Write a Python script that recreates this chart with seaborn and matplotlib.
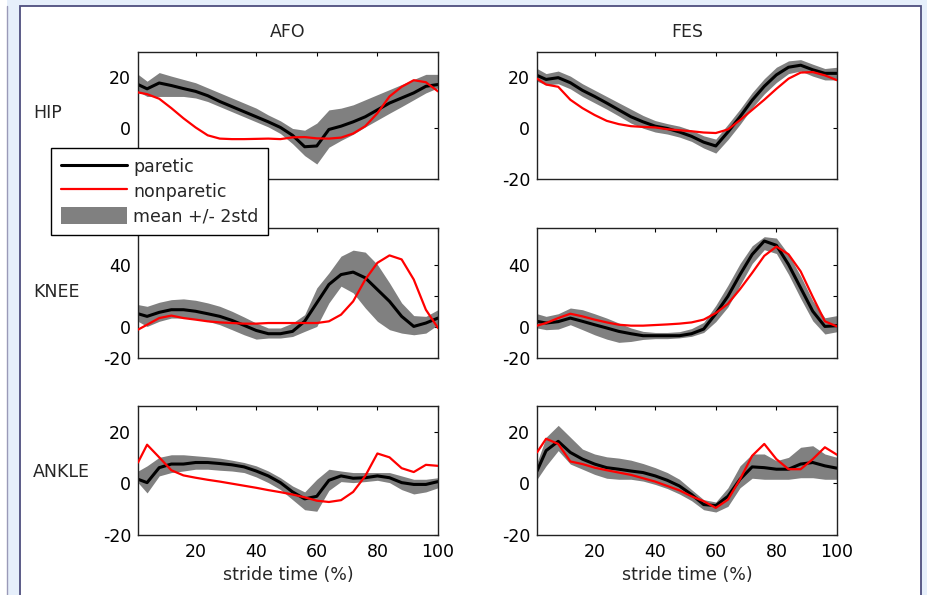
import numpy as np
import pandas as pd
import seaborn as sns
import matplotlib.pyplot as plt
from matplotlib.lines import Line2D
from matplotlib.patches import Patch, Rectangle

# stride time grid (%)
STRIDE = [1, 4, 8, 12, 16, 20, 24, 28, 32, 36, 40, 44, 48, 52, 56, 60, 64, 68, 72, 76, 80, 84, 88, 92, 96, 100]

# ---- AFO ----
AFO_HIP_PARETIC = [17.2, 15.5, 17.8, 16.8, 15.6, 14.5, 12.8, 10.5, 8.5, 6.5, 4.5, 2.5, 0.3, -2.8, -7.3, -7.0, -0.5, 0.8, 2.5, 4.5, 7.2, 9.9, 11.9, 13.9, 16.5, 17.2]
AFO_HIP_UPPER = [21.2, 18.5, 21.9, 20.5, 19.2, 17.9, 15.9, 13.9, 11.9, 9.9, 7.9, 5.2, 2.9, -0.1, -0.8, 2.0, 7.2, 7.9, 9.2, 11.2, 13.2, 15.2, 17.2, 19.2, 21.2, 21.2]
AFO_HIP_LOWER = [14.5, 12.5, 12.5, 12.5, 12.5, 11.9, 10.5, 8.5, 6.5, 4.5, 2.5, 0.5, -2.1, -6.1, -10.8, -14.1, -7.5, -4.8, -2.4, 0.5, 3.2, 5.9, 8.5, 11.2, 13.9, 15.9]
AFO_HIP_NONPARETIC = [14.1, 13.4, 11.6, 7.9, 3.9, 0.3, -2.8, -4.1, -4.3, -4.3, -4.2, -4.1, -4.3, -3.6, -3.5, -4.0, -4.1, -3.7, -2.1, 0.8, 5.9, 12.5, 16.3, 18.9, 18.1, 14.5]

AFO_KNEE_PARETIC = [8.6, 6.9, 9.5, 11.2, 11.2, 10.2, 8.6, 6.9, 4.3, 1.1, -2.2, -4.3, -4.3, -2.8, 3.7, 15.6, 27.5, 33.9, 35.5, 31.8, 24.2, 16.6, 6.9, 0.4, 2.6, 5.8]
AFO_KNEE_UPPER = [14.5, 13.4, 16.0, 17.7, 18.2, 17.3, 15.6, 13.4, 10.2, 6.5, 2.6, -0.6, -0.6, 2.6, 8.0, 25.3, 35.0, 45.8, 49.7, 48.4, 40.4, 28.5, 15.6, 7.4, 6.9, 11.2]
AFO_KNEE_LOWER = [3.7, 0.4, 3.7, 5.8, 5.8, 5.2, 3.7, 1.5, -1.7, -5.0, -7.8, -7.1, -7.1, -6.1, -2.8, 0.4, 15.6, 26.4, 22.1, 12.3, 3.7, -1.7, -3.9, -5.0, -3.9, 1.5]
AFO_KNEE_NONPARETIC = [-1.7, 1.5, 5.8, 7.4, 5.8, 4.8, 3.7, 3.0, 2.6, 2.2, 2.2, 2.6, 2.6, 2.6, 2.6, 2.6, 3.7, 8.0, 16.6, 30.7, 41.5, 46.3, 43.7, 30.7, 11.2, -0.6]

AFO_ANKLE_PARETIC = [1.6, 0.3, 6.1, 7.5, 7.5, 8.1, 8.1, 7.7, 7.2, 6.4, 4.8, 2.9, 0.3, -3.3, -6.0, -5.0, 1.2, 2.9, 2.0, 2.2, 2.9, 2.2, 0.3, -0.4, -0.4, 0.7]
AFO_ANKLE_UPPER = [4.8, 6.8, 10.1, 11.1, 11.1, 10.7, 10.3, 9.8, 9.0, 8.1, 6.8, 4.8, 2.2, -1.0, -3.3, 1.6, 5.5, 4.8, 4.2, 4.2, 4.2, 4.2, 2.9, 1.6, 1.6, 2.2]
AFO_ANKLE_LOWER = [0.3, -3.7, 2.9, 4.2, 4.8, 5.5, 5.5, 5.1, 4.8, 4.2, 2.5, 0.3, -2.4, -6.3, -10.2, -10.8, -2.7, 0.7, 0.3, 0.7, 1.2, 0.3, -2.4, -4.1, -3.3, -1.7]
AFO_ANKLE_NONPARETIC = [8.1, 15.0, 10.1, 5.1, 3.1, 2.2, 1.4, 0.7, -0.1, -0.9, -1.7, -2.6, -3.4, -4.3, -5.4, -6.7, -7.2, -6.5, -3.3, 2.9, 11.6, 10.1, 5.9, 4.4, 7.2, 6.8]

# ---- FES ----
FES_HIP_PARETIC = [20.8, 19.2, 19.9, 17.9, 14.9, 12.5, 9.9, 7.2, 4.5, 2.5, 0.8, -0.1, -1.5, -3.2, -5.5, -7.0, -1.5, 4.5, 11.0, 16.5, 21.0, 24.0, 24.8, 23.0, 21.6, 21.6]
FES_HIP_UPPER = [23.5, 21.5, 22.5, 20.5, 17.5, 15.0, 12.5, 10.0, 7.5, 5.0, 3.0, 1.8, 0.8, -0.8, -3.0, -4.3, 1.5, 7.5, 14.0, 19.5, 24.0, 26.5, 27.0, 25.2, 23.5, 24.0]
FES_HIP_LOWER = [18.5, 17.0, 17.5, 15.5, 12.5, 10.0, 7.5, 4.8, 2.0, 0.0, -1.5, -2.3, -3.5, -5.2, -7.8, -9.8, -4.5, 1.5, 8.0, 13.5, 18.0, 21.5, 22.5, 20.5, 19.0, 19.0]
FES_HIP_NONPARETIC = [19.5, 17.2, 16.3, 11.2, 7.9, 5.2, 2.9, 1.6, 0.8, 0.5, 0.3, -0.4, -0.8, -1.2, -1.7, -1.9, -0.5, 3.2, 7.2, 11.2, 15.5, 19.5, 21.9, 22.1, 20.8, 18.9]

FES_KNEE_PARETIC = [3.7, 2.6, 3.5, 5.8, 3.7, 1.5, -0.6, -2.8, -4.3, -5.6, -5.6, -5.6, -5.6, -4.3, -1.3, 8.6, 19.9, 33.9, 46.9, 55.6, 52.8, 40.4, 25.3, 10.2, 0.4, 0.9]
FES_KNEE_UPPER = [8.6, 6.9, 8.6, 12.3, 11.2, 8.6, 5.8, 2.6, -0.6, -2.8, -3.5, -3.5, -3.0, -1.0, 3.0, 14.0, 27.0, 41.0, 52.5, 58.4, 57.5, 47.0, 33.0, 17.0, 6.0, 7.4]
FES_KNEE_LOWER = [-0.6, -1.7, -1.3, 1.5, -1.7, -5.0, -7.8, -9.9, -9.3, -8.0, -7.5, -7.5, -7.0, -6.0, -3.5, 3.5, 13.0, 27.0, 41.0, 50.0, 47.5, 34.0, 18.5, 4.0, -4.5, -3.0]
FES_KNEE_NONPARETIC = [0.9, 2.6, 5.8, 8.6, 6.9, 4.8, 3.0, 1.5, 0.9, 0.9, 1.3, 1.7, 2.2, 3.0, 4.8, 9.0, 15.0, 24.5, 35.0, 46.0, 52.0, 47.0, 36.0, 19.5, 3.7, 0.4]

FES_ANKLE_PARETIC = [4.8, 12.7, 16.3, 12.0, 9.4, 7.5, 6.1, 5.5, 4.8, 4.2, 2.9, 1.2, -1.0, -4.3, -8.2, -8.6, -5.0, 1.6, 6.4, 6.1, 5.5, 5.5, 7.5, 8.1, 6.8, 5.9]
FES_ANKLE_UPPER = [8.1, 17.9, 22.5, 17.9, 13.3, 11.4, 10.3, 9.8, 9.0, 7.7, 6.1, 4.2, 1.6, -2.4, -6.3, -7.2, -1.7, 6.8, 11.4, 11.4, 8.8, 10.1, 14.0, 14.6, 11.4, 10.1]
FES_ANKLE_LOWER = [1.6, 6.8, 12.7, 7.5, 5.5, 3.5, 2.0, 1.6, 1.6, 0.9, -0.4, -2.0, -4.1, -6.7, -10.2, -11.1, -8.9, -1.7, 2.0, 1.6, 1.6, 1.6, 2.2, 2.2, 1.6, 1.6]
FES_ANKLE_NONPARETIC = [12.0, 17.3, 15.3, 8.5, 7.5, 6.1, 5.1, 4.2, 3.3, 2.0, 0.7, -1.0, -2.7, -5.0, -6.9, -9.5, -6.3, 1.6, 10.7, 15.3, 9.4, 5.5, 5.5, 9.4, 14.0, 11.1]

CONDITIONS = ["AFO", "FES"]
JOINTS = ["HIP", "KNEE", "ANKLE"]
YLIMS = {"HIP": (-20, 30), "KNEE": (-20, 64), "ANKLE": (-20, 30)}
YTICKS = {"HIP": [-20, 0, 20], "KNEE": [-20, 0, 20, 40], "ANKLE": [-20, 0, 20]}
YTICKLABELS = {"HIP": ["-20", "0", "20"], "KNEE": ["-20", "0", "", "40"], "ANKLE": ["-20", "0", "20"]}

DATA = {
    ("AFO", "HIP"): (AFO_HIP_PARETIC, AFO_HIP_UPPER, AFO_HIP_LOWER, AFO_HIP_NONPARETIC),
    ("AFO", "KNEE"): (AFO_KNEE_PARETIC, AFO_KNEE_UPPER, AFO_KNEE_LOWER, AFO_KNEE_NONPARETIC),
    ("AFO", "ANKLE"): (AFO_ANKLE_PARETIC, AFO_ANKLE_UPPER, AFO_ANKLE_LOWER, AFO_ANKLE_NONPARETIC),
    ("FES", "HIP"): (FES_HIP_PARETIC, FES_HIP_UPPER, FES_HIP_LOWER, FES_HIP_NONPARETIC),
    ("FES", "KNEE"): (FES_KNEE_PARETIC, FES_KNEE_UPPER, FES_KNEE_LOWER, FES_KNEE_NONPARETIC),
    ("FES", "ANKLE"): (FES_ANKLE_PARETIC, FES_ANKLE_UPPER, FES_ANKLE_LOWER, FES_ANKLE_NONPARETIC),
}

sns.set_style("white")
plt.rcParams["font.family"] = ["DejaVu Sans"]
FS = 12.5
plt.rcParams["font.size"] = FS

W, H = 928, 595
fig = plt.figure(figsize=(W / 100, H / 100), dpi=100)
fig.patch.set_facecolor("#E6EFFB")

# white panel with dark border (window frame look)
fig.add_artist(Rectangle((0, 0), 7 / W, 1, transform=fig.transFigure,
                         facecolor="white", edgecolor="none", zorder=-6))
fig.add_artist(Rectangle((20 / W, -0.02), 901 / W, 1.02 - 6 / H, transform=fig.transFigure,
                         facecolor="white", edgecolor="#4E4E7E", linewidth=1.3, zorder=-5))
fig.add_artist(Line2D([7 / W, 7 / W], [0, 1 - 6 / H], transform=fig.transFigure,
                      color="#9A9AB8", linewidth=1.0, zorder=-5))

col_left = {"AFO": 138 / W, "FES": 537 / W}
ax_w = 300 / W
row_box = {"HIP": (52, 179), "KNEE": (228, 358), "ANKLE": (406, 535)}

for cond in CONDITIONS:
    for joint in JOINTS:
        top, bot = row_box[joint]
        ax = fig.add_axes([col_left[cond], 1 - bot / H, ax_w, (bot - top) / H])
        paretic, upper, lower, nonparetic = DATA[(cond, joint)]
        ax.fill_between(STRIDE, lower, upper, color="#808080", linewidth=0, zorder=1)
        sns.lineplot(x=STRIDE, y=paretic, color="black", linewidth=2.2, ax=ax, zorder=2)
        sns.lineplot(x=STRIDE, y=nonparetic, color="#FF0000", linewidth=1.6, ax=ax, zorder=3)

        ax.set_xlim(1, 100)
        ax.set_ylim(*YLIMS[joint])
        ax.set_xticks([20, 40, 60, 80, 100])
        ax.set_yticks(YTICKS[joint])
        ax.set_yticklabels(YTICKLABELS[joint])
        ax.tick_params(direction="in", length=3, width=0.8, top=True, right=True,
                       labelsize=FS, colors="black")
        ax.tick_params(axis="x", pad=6)
        ax.tick_params(axis="y", pad=5)
        for sp in ax.spines.values():
            sp.set_color("#222222")
            sp.set_linewidth(1.0)
        ax.set_ylabel("")
        if joint == "ANKLE":
            ax.set_xlabel("stride time (%)", fontsize=FS, labelpad=3)
        else:
            ax.set_xticklabels([])
        if joint == "HIP":
            ax.set_title(cond, fontsize=FS, pad=11)

# row labels
for joint, yc in zip(JOINTS, [113, 292, 472]):
    fig.text(33 / W, 1 - yc / H, joint, fontsize=FS, ha="left", va="center")

handles = [
    Line2D([], [], color="black", linewidth=2.2),
    Line2D([], [], color="#FF0000", linewidth=1.6),
    Patch(facecolor="#808080", edgecolor="none"),
]
leg = fig.legend(handles, ["paretic", "nonparetic", "mean +/- 2std"],
                 loc="upper left", bbox_to_anchor=(51 / W, 1 - 148 / H),
                 bbox_transform=fig.transFigure, borderaxespad=0, fontsize=FS,
                 frameon=True, fancybox=False, handlelength=3.8, handleheight=1.2,
                 handletextpad=0.4, labelspacing=0.33, borderpad=0.55)
leg.get_frame().set_edgecolor("black")
leg.get_frame().set_linewidth(1.0)
leg.get_frame().set_alpha(1)
leg.set_zorder(10)

fig.savefig("out.png", dpi=100, facecolor=fig.get_facecolor())
